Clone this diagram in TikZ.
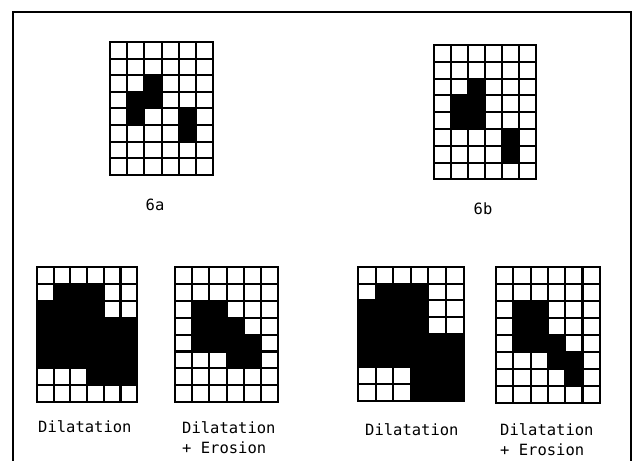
\documentclass[tikz,border=0pt]{standalone}
\usepackage{fontspec}
\newfontfamily\typefont{DejaVu Sans Mono}
\usetikzlibrary{positioning}

% #1 name, #2 x, #3 y, #4 cell width, #5 cell height, #6 black runs row/first/last
\newcommand{\cellgrid}[6]{%
  \begin{scope}[shift={(#2,#3)}, x=#4pt, y=-#5pt]
    \coordinate (#1) at (0,0);
    \coordinate (#1-s) at (3,8);
    \foreach \r/\a/\b in {#6}
      \fill (\a,\r) rectangle (\b+1,\r+1);
    \foreach \i in {0,...,6}
      \draw[gridline] (\i,0) -- (\i,8);
    \foreach \j in {0,...,8}
      \draw[gridline] (0,\j) -- (6,\j);
  \end{scope}}

\begin{document}
\begin{tikzpicture}[
    x=1pt, y=-1pt,
    gridline/.style={line width=2.1pt, line cap=rect},
    frameline/.style={line width=1.6pt},
    caption/.style={
        font=\typefont\fontsize{15.5}{20}\selectfont,
        align=left,
        anchor=north west,
        inner sep=0pt
    }
]
\useasboundingbox (0,0) rectangle (641,461);

% frame, open at the bottom
\draw[frameline] (13,461) -- (13,12) -- (631,12) -- (631,461);

% originals
\cellgrid{fig6a}{110}{42}{17.2}{16.6}{2/2/2, 3/1/2, 4/1/1, 4/4/4, 5/4/4}
\cellgrid{fig6b}{434}{45}{17.0}{16.8}{2/2/2, 3/1/2, 4/1/2, 5/4/4, 6/4/4}

% results
\cellgrid{dil6a}{37}{267}{16.7}{16.9}{1/1/3, 2/0/3, 3/0/5, 4/0/5, 5/0/5, 6/3/5}
\cellgrid{clo6a}{175}{267}{17.2}{16.9}{2/1/2, 3/1/3, 4/1/4, 5/3/4}
\cellgrid{dil6b}{358}{267}{17.6}{16.7}{1/1/3, 2/0/3, 3/0/3, 4/0/5, 5/0/5, 6/3/5, 7/3/5}
\cellgrid{clo6b}{496}{267}{17.3}{17.0}{2/1/2, 3/1/2, 4/1/3, 5/3/4, 6/4/4}

\node[caption, anchor=base] (lab6a) at (155,210) {6a};
\node[caption, anchor=base] (lab6b) at (483,214) {6b};

\node[caption] (capdil6a) at (38,420) {Dilatation};
\node[caption] (capclo6a) at (182,421) {Dilatation\\+ Erosion};
\node[caption] (capdil6b) at (365,423) {Dilatation};
\node[caption] (capclo6b) at (500,423) {Dilatation\\+ Erosion};

\end{tikzpicture}
\end{document}
